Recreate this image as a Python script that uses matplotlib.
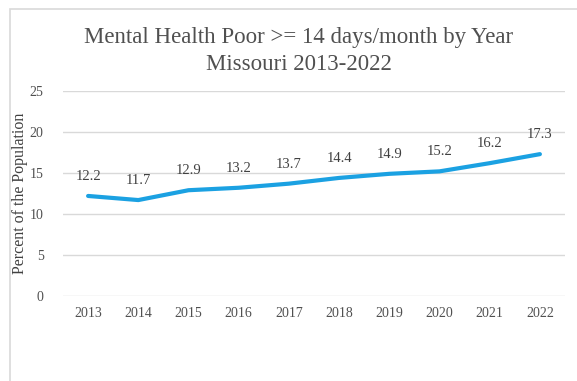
import matplotlib.pyplot as plt
from matplotlib.patches import Rectangle

years = ['2013', '2014', '2015', '2016', '2017', '2018', '2019', '2020', '2021', '2022']
pct = [12.2, 11.7, 12.9, 13.2, 13.7, 14.4, 14.9, 15.2, 16.2, 17.3]
yticks = [0, 5, 10, 15, 20, 25]

plt.rcParams['font.family'] = ['Liberation Serif', 'DejaVu Serif']

W, H = 577, 381
fig = plt.figure(figsize=(W / 100, H / 100), dpi=100)
fig.patch.set_facecolor('white')

# outer chart border (runs off the right/bottom edge)
fig.patches.append(Rectangle((10 / W, -0.1), 1.2, 1 - 9 / H + 0.1, transform=fig.transFigure,
                             fill=False, edgecolor='#d9d9d9', linewidth=1.2))

ax = fig.add_axes([63 / W, 1 - 296 / H, (565 - 63) / W, (296 - 91) / H])
x = range(len(years))
ax.plot(x, pct, color='#1ba1e2', linewidth=3, solid_capstyle='round')
for i, v in enumerate(pct):
    ax.annotate(f'{v:.1f}', (i, v), xytext=(0, 14), textcoords='offset points',
                ha='center', va='center', fontsize=10.5, color='#404040')

ax.set_xlim(-0.5, len(years) - 0.5)
ax.set_ylim(0, 25)
ax.set_yticks(yticks)
ax.set_xticks(list(x))
ax.set_xticklabels(years)
ax.grid(axis='y', color='#d9d9d9', linewidth=1)
ax.set_axisbelow(True)
for s in ax.spines.values():
    s.set_visible(False)
ax.tick_params(length=0, labelsize=10, colors='#505050', pad=8)
ax.tick_params(axis='y', pad=14)
ax.set_ylabel('Percent of the Population', fontsize=11.5, color='#404040', labelpad=1)

fig.text(299 / W, 1 - 37 / H, 'Mental Health Poor >= 14 days/month by Year',
         ha='center', va='center', fontsize=16.5, color='#505050')
fig.text(299 / W, 1 - 64 / H, 'Missouri 2013-2022',
         ha='center', va='center', fontsize=16.5, color='#505050')

fig.savefig('out.png', dpi=100)
